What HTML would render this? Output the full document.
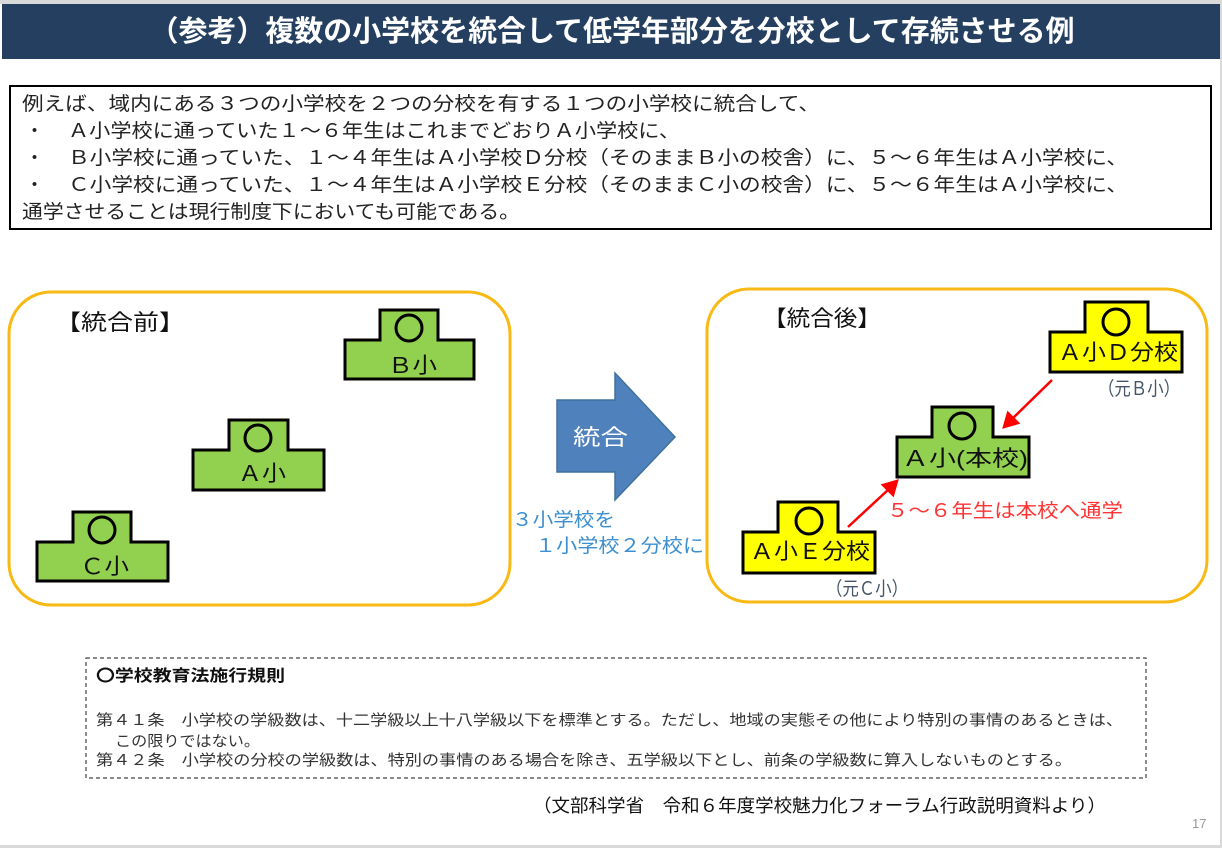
<!DOCTYPE html>
<html><head><meta charset="utf-8"><style>
html,body{margin:0;padding:0;background:#fff;}
svg{display:block;font-family:"Liberation Sans","Noto Sans CJK JP",sans-serif;}
</style></head><body>
<svg width="1222" height="848" viewBox="0 0 1222 848" xmlns="http://www.w3.org/2000/svg">
<rect x="0" y="0" width="1222" height="848" fill="#fff"/>
<rect x="0" y="0" width="1222" height="4" fill="#d9d9d9"/>
<rect x="2" y="4" width="1218" height="55" fill="#243f60"/>
<text x="612" y="41" font-size="29" font-weight="bold" fill="#fff" text-anchor="middle" textLength="925" lengthAdjust="spacingAndGlyphs">（参考）複数の小学校を統合して低学年部分を分校として存続させる例</text>

<rect x="10" y="86" width="1201" height="143" fill="#fff" stroke="#000" stroke-width="2"/>
<g font-size="19" fill="#222">
<text x="22" y="110" textLength="798" lengthAdjust="spacingAndGlyphs">例えば、域内にある３つの小学校を２つの分校を有する１つの小学校に統合して、</text>
<text x="25" y="137">・</text>
<text x="68" y="137" textLength="612" lengthAdjust="spacingAndGlyphs">Ａ小学校に通っていた１～６年生はこれまでどおりＡ小学校に、</text>
<text x="25" y="164">・</text>
<text x="68" y="164" textLength="1060" lengthAdjust="spacingAndGlyphs">Ｂ小学校に通っていた、１～４年生はＡ小学校Ｄ分校（そのままＢ小の校舎）に、５～６年生はＡ小学校に、</text>
<text x="25" y="191">・</text>
<text x="68" y="191" textLength="1060" lengthAdjust="spacingAndGlyphs">Ｃ小学校に通っていた、１～４年生はＡ小学校Ｅ分校（そのままＣ小の校舎）に、５～６年生はＡ小学校に、</text>
<text x="22" y="218" textLength="498" lengthAdjust="spacingAndGlyphs">通学させることは現行制度下においても可能である。</text>
</g>

<rect x="9" y="292" width="501" height="313" rx="42" fill="#fff" stroke="#f9b914" stroke-width="3"/>
<rect x="707" y="289" width="500" height="313" rx="42" fill="#fff" stroke="#f9b914" stroke-width="3"/>
<text x="55" y="330" font-size="22" fill="#111" textLength="130" lengthAdjust="spacingAndGlyphs">【統合前】</text>
<text x="763" y="326" font-size="22" fill="#111" textLength="118" lengthAdjust="spacingAndGlyphs">【統合後】</text>

<g stroke="#000" stroke-width="3">
<path d="M380 310 H438 V340 H474 V379 H345 V340 H380 Z" fill="#92d050"/>
<path d="M229 420 H288 V450 H324 V490 H193 V450 H229 Z" fill="#92d050"/>
<path d="M73 512 H131 V542 H168 V581 H37 V542 H73 Z" fill="#92d050"/>
<path d="M1085 302 H1148 V332 H1182 V372 H1050 V332 H1085 Z" fill="#ffff00"/>
<path d="M932 407 H993 V437 H1029 V477 H897 V437 H932 Z" fill="#92d050"/>
<path d="M778 502 H838 V532 H875 V573 H743 V532 H778 Z" fill="#ffff00"/>
</g>
<g fill="none" stroke="#000" stroke-width="3">
<circle cx="409" cy="328" r="13"/>
<circle cx="258" cy="438" r="13"/>
<circle cx="102" cy="530" r="13"/>
<circle cx="1116" cy="322" r="13"/>
<circle cx="962" cy="426" r="13"/>
<circle cx="809" cy="521" r="13"/>
</g>
<g font-size="22" fill="#111">
<text x="388" y="373" textLength="49" lengthAdjust="spacingAndGlyphs">Ｂ小</text>
<text x="238" y="481" textLength="48" lengthAdjust="spacingAndGlyphs">Ａ小</text>
<text x="80" y="574" textLength="49" lengthAdjust="spacingAndGlyphs">Ｃ小</text>
<text x="1058" y="360" textLength="120" lengthAdjust="spacingAndGlyphs">Ａ小Ｄ分校</text>
<text x="902" y="466" textLength="126" lengthAdjust="spacingAndGlyphs">Ａ小(本校)</text>
<text x="750" y="559" textLength="120" lengthAdjust="spacingAndGlyphs">Ａ小Ｅ分校</text>
</g>

<path d="M557 400 H615 V373 L675 437 L615 500 V472 H557 Z" fill="#4f81bd" stroke="#41719c" stroke-width="1.5"/>
<text x="573" y="445" font-size="22" fill="#fff" textLength="55" lengthAdjust="spacingAndGlyphs">統合</text>
<text x="512" y="526" font-size="19" fill="#3c8fd0" textLength="103" lengthAdjust="spacingAndGlyphs">３小学校を</text>
<text x="535" y="552" font-size="19" fill="#3c8fd0" textLength="169" lengthAdjust="spacingAndGlyphs">１小学校２分校に</text>

<g stroke="#ff0000" stroke-width="2.5" fill="#ff0000">
<line x1="1052" y1="380" x2="1012" y2="419"/>
<polygon points="1004,427 1008,413 1018,423"/>
<line x1="848" y1="527" x2="889" y2="489"/>
<polygon points="897,481 893,495 883,485"/>
</g>
<text x="887" y="517" font-size="19" fill="#ff3333" textLength="236" lengthAdjust="spacingAndGlyphs">５～６年生は本校へ通学</text>
<text x="1098" y="395" font-size="19" fill="#44546a" textLength="82" lengthAdjust="spacingAndGlyphs">（元Ｂ小）</text>
<text x="826" y="595" font-size="19" fill="#44546a" textLength="82" lengthAdjust="spacingAndGlyphs">（元Ｃ小）</text>

<rect x="86" y="658" width="1060" height="120" fill="none" stroke="#444" stroke-width="1.2" stroke-dasharray="4,3"/>
<text x="96" y="681" font-size="16" font-weight="bold" fill="#111" textLength="189" lengthAdjust="spacingAndGlyphs">〇学校教育法施行規則</text>
<g font-size="15" fill="#333">
<text x="96" y="725" textLength="1027" lengthAdjust="spacingAndGlyphs">第４１条　小学校の学級数は、十二学級以上十八学級以下を標準とする。ただし、地域の実態その他により特別の事情のあるときは、</text>
<text x="115" y="746" textLength="145" lengthAdjust="spacingAndGlyphs">この限りではない。</text>
<text x="96" y="765" textLength="976" lengthAdjust="spacingAndGlyphs">第４２条　小学校の分校の学級数は、特別の事情のある場合を除き、五学級以下とし、前条の学級数に算入しないものとする。</text>
</g>
<text x="533" y="812" font-size="18" fill="#111" textLength="573" lengthAdjust="spacingAndGlyphs">（文部科学省　令和６年度学校魅力化フォーラム行政説明資料より）</text>
<text x="1192" y="828" font-size="13" fill="#999">17</text>
<rect x="1220" y="0" width="2" height="848" fill="#d9d9d9"/>
<rect x="0" y="845" width="1222" height="3" fill="#d9d9d9"/>
</svg>
</body></html>
